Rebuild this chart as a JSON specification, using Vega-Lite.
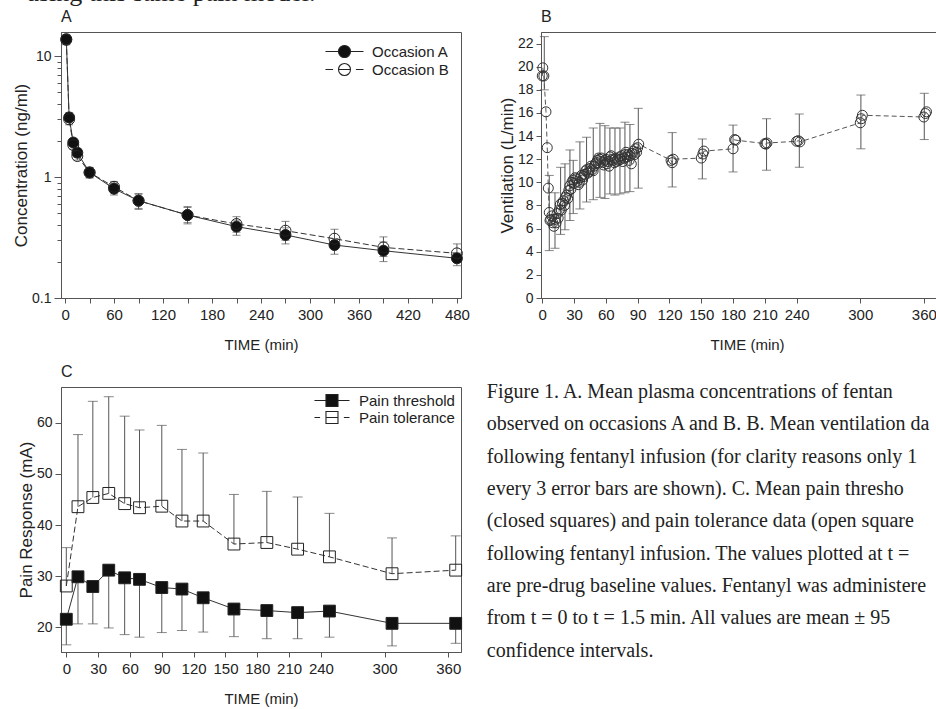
{
"$schema": "https://vega.github.io/schema/vega-lite/v6.json",
"padding": {"left": 12, "top": -20, "right": -15, "bottom": 0},
"background": "white",
"bounds": "flush",
"columns": 2,
"spacing": {"row": 89, "column": 80},
"resolve": {"scale": {"shape": "independent", "fill": "independent", "stroke": "independent"}, "legend": {"shape": "independent", "fill": "independent", "stroke": "independent"}},
"title": {"text": "using this same pain model.", "anchor": "start", "frame": "group", "dx": -35, "font": "Liberation Serif", "fontSize": 26, "fontWeight": "normal", "color": "#222", "offset": 2},
"config": {
  "font": "Liberation Sans",
  "view": {"stroke": "#555", "strokeWidth": 1},
  "axis": {"grid": false, "domainColor": "#555", "tickColor": "#555", "labelColor": "#222", "titleColor": "#222", "labelFont": "Liberation Sans", "titleFont": "Liberation Sans", "labelFontSize": 15, "titleFontSize": 15, "titleFontWeight": "normal", "tickSize": 5, "labelPadding": 4, "titlePadding": 15, "labelFlush": false, "labelOverlap": false},
  "axisY": {"labelFontSize": 14, "titleFontSize": 17, "titlePadding": 1, "labelPadding": 3, "labelOverlap": false},
  "title": {"anchor": "start", "frame": "group", "font": "Liberation Sans", "fontSize": 16, "fontWeight": "normal", "color": "#222", "offset": 7}
},
"datasets": {
  "a": [
    {"t":1.5,"occ":"Occasion A","c":13.8,"lo":12.6,"hi":15.0},
    {"t":5,"occ":"Occasion A","c":3.11,"lo":2.85,"hi":3.4},
    {"t":10,"occ":"Occasion A","c":1.93,"lo":1.8,"hi":2.08},
    {"t":15,"occ":"Occasion A","c":1.59,"lo":1.46,"hi":1.72},
    {"t":30,"occ":"Occasion A","c":1.09,"lo":0.99,"hi":1.2},
    {"t":60,"occ":"Occasion A","c":0.8,"lo":0.71,"hi":0.89},
    {"t":90,"occ":"Occasion A","c":0.637,"lo":0.55,"hi":0.72},
    {"t":150,"occ":"Occasion A","c":0.485,"lo":0.41,"hi":0.56},
    {"t":210,"occ":"Occasion A","c":0.389,"lo":0.33,"hi":0.44},
    {"t":270,"occ":"Occasion A","c":0.332,"lo":0.28,"hi":0.38},
    {"t":330,"occ":"Occasion A","c":0.274,"lo":0.23,"hi":0.31},
    {"t":390,"occ":"Occasion A","c":0.246,"lo":0.2,"hi":0.29},
    {"t":480,"occ":"Occasion A","c":0.213,"lo":0.185,"hi":0.235},
    {"t":1.5,"occ":"Occasion B","c":13.6,"lo":12.4,"hi":14.8},
    {"t":5,"occ":"Occasion B","c":3.0,"lo":2.7,"hi":3.3},
    {"t":10,"occ":"Occasion B","c":1.84,"lo":1.7,"hi":2.0},
    {"t":15,"occ":"Occasion B","c":1.49,"lo":1.38,"hi":1.62},
    {"t":30,"occ":"Occasion B","c":1.09,"lo":0.98,"hi":1.2},
    {"t":60,"occ":"Occasion B","c":0.83,"lo":0.74,"hi":0.92},
    {"t":90,"occ":"Occasion B","c":0.637,"lo":0.54,"hi":0.73},
    {"t":150,"occ":"Occasion B","c":0.485,"lo":0.42,"hi":0.57},
    {"t":210,"occ":"Occasion B","c":0.409,"lo":0.35,"hi":0.47},
    {"t":270,"occ":"Occasion B","c":0.36,"lo":0.3,"hi":0.43},
    {"t":330,"occ":"Occasion B","c":0.309,"lo":0.26,"hi":0.37},
    {"t":390,"occ":"Occasion B","c":0.262,"lo":0.22,"hi":0.32},
    {"t":480,"occ":"Occasion B","c":0.234,"lo":0.2,"hi":0.28}
  ],
  "bp": [
    {"t":0,"v":19.2},{"t":0.5,"v":19.9},{"t":1.5,"v":19.2},{"t":3.5,"v":16.1},{"t":4.7,"v":13.0},{"t":5.7,"v":9.5},{"t":6.6,"v":7.4},{"t":7.3,"v":6.7},
    {"t":8,"v":6.8},{"t":9,"v":7.1},{"t":10,"v":6.5},{"t":11,"v":6.2},{"t":12,"v":6.8},{"t":13,"v":6.5},{"t":14,"v":7.3},{"t":15,"v":6.9},
    {"t":16,"v":7.6},{"t":17,"v":8.1},{"t":18,"v":7.6},{"t":19,"v":8.2},{"t":20,"v":8.4},{"t":21,"v":8.0},{"t":22,"v":8.7},{"t":23,"v":8.9},
    {"t":24,"v":8.6},{"t":25,"v":9.3},{"t":26,"v":9.7},{"t":27,"v":9.4},{"t":28,"v":10.0},{"t":29,"v":10.2},{"t":30,"v":9.9},{"t":31,"v":10.4},
    {"t":32,"v":10.3},{"t":33,"v":10.1},{"t":34,"v":9.8},{"t":35,"v":10.0},{"t":36,"v":10.4},{"t":37,"v":10.6},{"t":38,"v":10.2},{"t":39,"v":10.5},
    {"t":40,"v":10.7},{"t":41,"v":11.0},{"t":42,"v":11.1},{"t":43,"v":10.8},{"t":44,"v":10.9},{"t":45,"v":11.2},{"t":46,"v":11.4},{"t":47,"v":11.1},
    {"t":48,"v":11.0},{"t":49,"v":11.4},{"t":50,"v":11.6},{"t":51,"v":11.7},{"t":52,"v":11.9},{"t":53,"v":12.1},{"t":54,"v":12.0},{"t":55,"v":11.8},
    {"t":56,"v":12.1},{"t":57,"v":11.7},{"t":58,"v":11.5},{"t":59,"v":11.9},{"t":60,"v":12.0},{"t":61,"v":11.6},{"t":62,"v":11.8},{"t":63,"v":11.4},
    {"t":64,"v":12.2},{"t":65,"v":12.3},{"t":66,"v":12.0},{"t":67,"v":11.9},{"t":68,"v":11.7},{"t":69,"v":12.1},{"t":70,"v":11.8},{"t":71,"v":12.0},
    {"t":72,"v":11.9},{"t":73,"v":12.2},{"t":74,"v":12.0},{"t":75,"v":12.3},{"t":76,"v":11.8},{"t":77,"v":12.1},{"t":78,"v":12.4},{"t":79,"v":12.6},
    {"t":80,"v":12.2},{"t":81,"v":12.4},{"t":82,"v":11.9},{"t":83,"v":12.3},{"t":84,"v":11.6},{"t":85,"v":12.5},{"t":86,"v":12.7},{"t":87,"v":12.4},
    {"t":88,"v":12.9},{"t":89,"v":12.6},{"t":90,"v":13.0},{"t":91,"v":13.3},
    {"t":121.5,"v":11.9},{"t":122.5,"v":11.7},{"t":123.5,"v":12.0},{"t":150,"v":12.1},{"t":151.5,"v":12.45},{"t":152.5,"v":12.7},
    {"t":180,"v":12.9},{"t":181.5,"v":13.7},{"t":182.5,"v":13.65},{"t":210,"v":13.35},{"t":211,"v":13.3},{"t":212,"v":13.4},
    {"t":240,"v":13.55},{"t":241.5,"v":13.6},{"t":243,"v":13.5},{"t":300,"v":15.15},{"t":301,"v":15.5},{"t":302,"v":15.8},
    {"t":360,"v":15.65},{"t":361.5,"v":15.95},{"t":362.5,"v":16.1}
  ],
  "be": [
    {"t":1.9,"lo":18.0,"hi":22.6},{"t":6.6,"lo":4.1,"hi":10.6},{"t":12,"lo":4.3,"hi":9.1},{"t":17.3,"lo":5.5,"hi":11.3},
    {"t":21.4,"lo":5.9,"hi":11.6},{"t":26.1,"lo":6.7,"hi":12.8},{"t":29.2,"lo":7.3,"hi":11.9},{"t":35.5,"lo":7.7,"hi":13.5},
    {"t":41.8,"lo":8.3,"hi":13.9},{"t":48.1,"lo":8.5,"hi":14.7},{"t":54.4,"lo":8.7,"hi":15.1},{"t":59.1,"lo":8.6,"hi":14.9},
    {"t":63.8,"lo":9.0,"hi":14.7},{"t":68.6,"lo":8.9,"hi":14.7},{"t":73.3,"lo":9.0,"hi":14.7},{"t":78,"lo":9.1,"hi":15.2},
    {"t":82.7,"lo":9.2,"hi":15.0},{"t":90.6,"lo":9.5,"hi":16.4},{"t":122.6,"lo":9.6,"hi":14.3},{"t":151,"lo":10.3,"hi":13.75},
    {"t":180,"lo":10.9,"hi":14.95},{"t":211.6,"lo":11.05,"hi":15.5},{"t":242.5,"lo":11.3,"hi":15.9},{"t":300.6,"lo":12.9,"hi":17.55},
    {"t":360.4,"lo":13.7,"hi":17.7}
  ],
  "c": [
    {"t":0,"kind":"Pain threshold","v":21.6,"end":16.6},
    {"t":11,"kind":"Pain threshold","v":29.9,"end":20.7},
    {"t":25,"kind":"Pain threshold","v":28.0,"end":20.7},
    {"t":40,"kind":"Pain threshold","v":31.2,"end":19.9},
    {"t":55,"kind":"Pain threshold","v":29.7,"end":18.6},
    {"t":69,"kind":"Pain threshold","v":29.4,"end":18.1},
    {"t":90,"kind":"Pain threshold","v":27.8,"end":19.0},
    {"t":109,"kind":"Pain threshold","v":27.5,"end":19.4},
    {"t":129,"kind":"Pain threshold","v":25.8,"end":19.1},
    {"t":158,"kind":"Pain threshold","v":23.6,"end":18.2},
    {"t":189,"kind":"Pain threshold","v":23.3,"end":17.8},
    {"t":218,"kind":"Pain threshold","v":22.9,"end":17.8},
    {"t":248,"kind":"Pain threshold","v":23.2,"end":18.1},
    {"t":307,"kind":"Pain threshold","v":20.8,"end":16.4},
    {"t":367,"kind":"Pain threshold","v":20.8,"end":16.9},
    {"t":0,"kind":"Pain tolerance","v":28.1,"end":35.6},
    {"t":11,"kind":"Pain tolerance","v":43.6,"end":57.7},
    {"t":25,"kind":"Pain tolerance","v":45.4,"end":64.2},
    {"t":40,"kind":"Pain tolerance","v":46.2,"end":65.1},
    {"t":55,"kind":"Pain tolerance","v":44.2,"end":61.3},
    {"t":69,"kind":"Pain tolerance","v":43.4,"end":58.6},
    {"t":90,"kind":"Pain tolerance","v":43.7,"end":59.5},
    {"t":109,"kind":"Pain tolerance","v":40.8,"end":54.8},
    {"t":129,"kind":"Pain tolerance","v":40.8,"end":54.1},
    {"t":158,"kind":"Pain tolerance","v":36.3,"end":46.0},
    {"t":189,"kind":"Pain tolerance","v":36.6,"end":46.6},
    {"t":218,"kind":"Pain tolerance","v":35.3,"end":45.5},
    {"t":248,"kind":"Pain tolerance","v":33.8,"end":42.3},
    {"t":307,"kind":"Pain tolerance","v":30.5,"end":37.5},
    {"t":367,"kind":"Pain tolerance","v":31.2,"end":37.9}
  ],
  "cap": [
    {"line":1,"col":0,"text":"Figure 1. A. Mean plasma concentrations of fentan"},
    {"line":2,"col":0,"text":"observed on occasions A and B. B. Mean ventilation da"},
    {"line":3,"col":0,"text":"following fentanyl infusion (for clarity reasons only 1"},
    {"line":4,"col":0,"text":"every 3 error bars are shown). C. Mean pain thresho"},
    {"line":5,"col":0,"text":"(closed squares) and pain tolerance data (open square"},
    {"line":6,"col":0,"text":"following fentanyl infusion. The values plotted at t ="},
    {"line":7,"col":0,"text":"are pre-drug baseline values. Fentanyl was administere"},
    {"line":8,"col":0,"text":"from t = 0 to t = 1.5 min. All values are mean ± 95"},
    {"line":9,"col":0,"text":"confidence intervals."}
  ]
},
"concat": [
  {
    "width": 400, "height": 266,
    "title": {"text": "A"},
    "data": {"name": "a"},
    "encoding": {
      "x": {"field": "t", "type": "quantitative", "title": "TIME (min)",
            "scale": {"domain": [-5, 485], "nice": false, "zero": false},
            "axis": {"values": [0,30,60,90,120,150,180,210,240,270,300,330,360,390,420,450,480], "tickCount": 17, "labelExpr": "datum.value % 60 === 0 ? datum.label : ''"}}
    },
    "layer": [
      {"mark": {"type": "rule", "color": "#555", "strokeWidth": 1},
       "encoding": {"y": {"field": "lo", "type": "quantitative", "title": "Concentration (ng/ml)",
                          "scale": {"type": "log", "domain": [0.1, 15.8], "nice": false},
                          "axis": {"values": [0.1,0.2,0.3,0.4,0.5,0.6,0.7,0.8,0.9,1,2,3,4,5,6,7,8,9,10], "tickCount": 19,
                                   "labelExpr": "datum.value === 0.1 ? '0.1' : datum.value === 1 ? '1' : datum.value === 10 ? '10' : ''",
                                   "tickSize": {"condition": {"test": "datum.value === 0.1 || datum.value === 1 || datum.value === 10", "value": 7}, "value": 4}}},
                    "y2": {"field": "hi"}}},
      {"mark": {"type": "tick", "orient": "horizontal", "size": 8, "thickness": 1, "color": "#555"},
       "encoding": {"y": {"field": "lo", "type": "quantitative", "title": "Concentration (ng/ml)"}}},
      {"mark": {"type": "tick", "orient": "horizontal", "size": 8, "thickness": 1, "color": "#555"},
       "encoding": {"y": {"field": "hi", "type": "quantitative", "title": "Concentration (ng/ml)"}}},
      {"transform": [{"filter": "datum.occ === 'Occasion A'"}],
       "mark": {"type": "line", "color": "#333", "strokeWidth": 1},
       "encoding": {"y": {"field": "c", "type": "quantitative", "title": "Concentration (ng/ml)"}}},
      {"transform": [{"filter": "datum.occ === 'Occasion B'"}],
       "mark": {"type": "line", "color": "#333", "strokeWidth": 1, "strokeDash": [6, 3]},
       "encoding": {"y": {"field": "c", "type": "quantitative", "title": "Concentration (ng/ml)"}}},
      {"transform": [{"filter": "datum.occ === 'Occasion A'"}],
       "mark": {"type": "point", "shape": "circle", "size": 120, "filled": true, "fill": "#111", "stroke": "#222", "strokeWidth": 1, "opacity": 1},
       "encoding": {"y": {"field": "c", "type": "quantitative", "title": "Concentration (ng/ml)"}}},
      {"transform": [{"filter": "datum.occ === 'Occasion B'"}],
       "mark": {"type": "point", "shape": "circle", "size": 120, "filled": false, "stroke": "#222", "strokeWidth": 1, "opacity": 1},
       "encoding": {"y": {"field": "c", "type": "quantitative", "title": "Concentration (ng/ml)"}}},
      {"transform": [{"filter": "datum.t < -100"}],
       "mark": {"type": "point", "size": 144, "strokeWidth": 1.1, "opacity": 1},
       "encoding": {
         "y": {"field": "c", "type": "quantitative", "title": "Concentration (ng/ml)"},
         "shape": {"field": "occ", "type": "nominal",
                   "scale": {"domain": ["Occasion A", "Occasion B"], "range": ["M-5.17,0H-3M-1,0H1.17M-3,0A1,1,0,1,0,-1,0A1,1,0,1,0,-3,0Z", "M-5.17,0H-3.9M-0.1,0H1.17M-3,0H-1M-3,0A1,1,0,1,0,-1,0A1,1,0,1,0,-3,0Z"]},
                   "legend": {"title": null, "orient": "top-right", "offset": 12, "padding": 0, "labelFontSize": 15, "labelColor": "#222", "labelFont": "Liberation Sans", "symbolSize": 144, "symbolStrokeWidth": 1.1, "rowPadding": 1, "labelOffset": 8}},
         "fill": {"field": "occ", "type": "nominal",
                  "scale": {"domain": ["Occasion A", "Occasion B"], "range": ["#111", "transparent"]},
                  "legend": {"title": null, "orient": "top-right", "offset": 12, "padding": 0, "labelFontSize": 15, "labelColor": "#222", "labelFont": "Liberation Sans", "symbolSize": 144, "symbolStrokeWidth": 1.1, "rowPadding": 1, "labelOffset": 8}},
         "stroke": {"field": "occ", "type": "nominal",
                  "scale": {"domain": ["Occasion A", "Occasion B"], "range": ["#222", "#222"]},
                  "legend": {"title": null, "orient": "top-right", "offset": 12, "padding": 0, "labelFontSize": 15, "labelColor": "#222", "labelFont": "Liberation Sans", "symbolSize": 144, "symbolStrokeWidth": 1.1, "rowPadding": 1, "labelOffset": 8}}
       }}
    ]
  },
  {
    "width": 412, "height": 266,
    "title": {"text": "B"},
    "encoding": {
      "x": {"field": "t", "type": "quantitative", "title": "TIME (min)",
            "scale": {"domain": [-1.2, 387.5], "nice": false, "zero": false},
            "axis": {"values": [0,30,60,90,120,150,180,210,240,300,360], "tickCount": 11}}
    },
    "layer": [
      {"data": {"name": "be"},
       "mark": {"type": "rule", "color": "#555", "strokeWidth": 1},
       "encoding": {"y": {"field": "lo", "type": "quantitative", "title": "Ventilation (L/min)",
                          "scale": {"domain": [0, 23], "nice": false, "zero": false},
                          "axis": {"values": [0,2,4,6,8,10,12,14,16,18,20,22], "tickCount": 12, "labelOverlap": false}},
                    "y2": {"field": "hi"}}},
      {"data": {"name": "be"},
       "mark": {"type": "tick", "orient": "horizontal", "size": 9, "thickness": 1, "color": "#555"},
       "encoding": {"y": {"field": "lo", "type": "quantitative", "title": "Ventilation (L/min)"}}},
      {"data": {"name": "be"},
       "mark": {"type": "tick", "orient": "horizontal", "size": 9, "thickness": 1, "color": "#555"},
       "encoding": {"y": {"field": "hi", "type": "quantitative", "title": "Ventilation (L/min)"}}},
      {"data": {"name": "bp"},
       "mark": {"type": "line", "color": "#555", "strokeWidth": 1, "strokeDash": [5, 3]},
       "encoding": {"y": {"field": "v", "type": "quantitative", "title": "Ventilation (L/min)"}}},
      {"data": {"name": "bp"},
       "mark": {"type": "point", "shape": "circle", "size": 100, "filled": false, "stroke": "#333", "strokeWidth": 1, "opacity": 1},
       "encoding": {"y": {"field": "v", "type": "quantitative", "title": "Ventilation (L/min)"}}}
    ]
  },
  {
    "width": 400, "height": 265,
    "title": {"text": "C"},
    "data": {"name": "c"},
    "encoding": {
      "x": {"field": "t", "type": "quantitative", "title": "TIME (min)",
            "scale": {"domain": [-5, 372], "nice": false, "zero": false},
            "axis": {"values": [0,30,60,90,120,150,180,210,240,300,360], "tickCount": 11}}
    },
    "layer": [
      {"mark": {"type": "rule", "color": "#555", "strokeWidth": 1},
       "encoding": {"y": {"field": "v", "type": "quantitative", "title": "Pain Response (mA)",
                          "scale": {"domain": [15.2, 67], "nice": false, "zero": false},
                          "axis": {"values": [20,30,40,50,60], "tickCount": 5, "tickSize": 6}},
                    "y2": {"field": "end"}}},
      {"mark": {"type": "tick", "orient": "horizontal", "size": 10, "thickness": 1, "color": "#555"},
       "encoding": {"y": {"field": "end", "type": "quantitative", "title": "Pain Response (mA)"}}},
      {"transform": [{"filter": "datum.kind === 'Pain threshold'"}],
       "mark": {"type": "line", "color": "#333", "strokeWidth": 1},
       "encoding": {"y": {"field": "v", "type": "quantitative", "title": "Pain Response (mA)"}}},
      {"transform": [{"filter": "datum.kind === 'Pain tolerance'"}],
       "mark": {"type": "line", "color": "#333", "strokeWidth": 1, "strokeDash": [6, 3]},
       "encoding": {"y": {"field": "v", "type": "quantitative", "title": "Pain Response (mA)"}}},
      {"transform": [{"filter": "datum.kind === 'Pain threshold'"}],
       "mark": {"type": "point", "shape": "square", "size": 140, "filled": true, "fill": "#111", "stroke": "#222", "strokeWidth": 1, "opacity": 1},
       "encoding": {"y": {"field": "v", "type": "quantitative", "title": "Pain Response (mA)"}}},
      {"transform": [{"filter": "datum.kind === 'Pain tolerance'"}],
       "mark": {"type": "point", "shape": "square", "size": 140, "filled": false, "stroke": "#222", "strokeWidth": 1, "opacity": 1},
       "encoding": {"y": {"field": "v", "type": "quantitative", "title": "Pain Response (mA)"}}},
      {"transform": [{"filter": "datum.t < -100"}],
       "mark": {"type": "point", "size": 144, "strokeWidth": 1.1, "opacity": 1},
       "encoding": {
         "y": {"field": "v", "type": "quantitative", "title": "Pain Response (mA)"},
         "shape": {"field": "kind", "type": "nominal",
                   "scale": {"domain": ["Pain threshold", "Pain tolerance"], "range": ["M-4.84,0H-2.92M-0.92,0H1M-2.92,-1H-0.92V1H-2.92Z", "M-4.84,0H-3.9M0.06,0H1M-2.92,0H-0.92M-2.92,-1H-0.92V1H-2.92Z"]},
                   "legend": {"title": null, "orient": "top-right", "offset": 6, "padding": 0, "labelFontSize": 15, "labelColor": "#222", "labelFont": "Liberation Sans", "symbolSize": 144, "symbolStrokeWidth": 1.1, "rowPadding": 0, "labelOffset": 8}},
         "fill": {"field": "kind", "type": "nominal",
                  "scale": {"domain": ["Pain threshold", "Pain tolerance"], "range": ["#111", "transparent"]},
                  "legend": {"title": null, "orient": "top-right", "offset": 6, "padding": 0, "labelFontSize": 15, "labelColor": "#222", "labelFont": "Liberation Sans", "symbolSize": 144, "symbolStrokeWidth": 1.1, "rowPadding": 0, "labelOffset": 8}},
         "stroke": {"field": "kind", "type": "nominal",
                  "scale": {"domain": ["Pain threshold", "Pain tolerance"], "range": ["#222", "#222"]},
                  "legend": {"title": null, "orient": "top-right", "offset": 6, "padding": 0, "labelFontSize": 15, "labelColor": "#222", "labelFont": "Liberation Sans", "symbolSize": 144, "symbolStrokeWidth": 1.1, "rowPadding": 0, "labelOffset": 8}}
       }}
    ]
  },
  {
    "width": 390, "height": 265,
    "view": {"stroke": null},
    "data": {"name": "cap"},
    "mark": {"type": "text", "align": "left", "baseline": "alphabetic", "font": "Liberation Serif", "fontSize": 20, "color": "#222"},
    "encoding": {
      "x": {"field": "col", "type": "quantitative", "scale": {"domain": [0.139, 1.139], "zero": false, "nice": false}, "axis": null},
      "y": {"field": "line", "type": "quantitative", "scale": {"domain": [0.66, 8.857], "reverse": true, "zero": false, "nice": false}, "axis": null},
      "text": {"field": "text"}
    }
  }
]
}
